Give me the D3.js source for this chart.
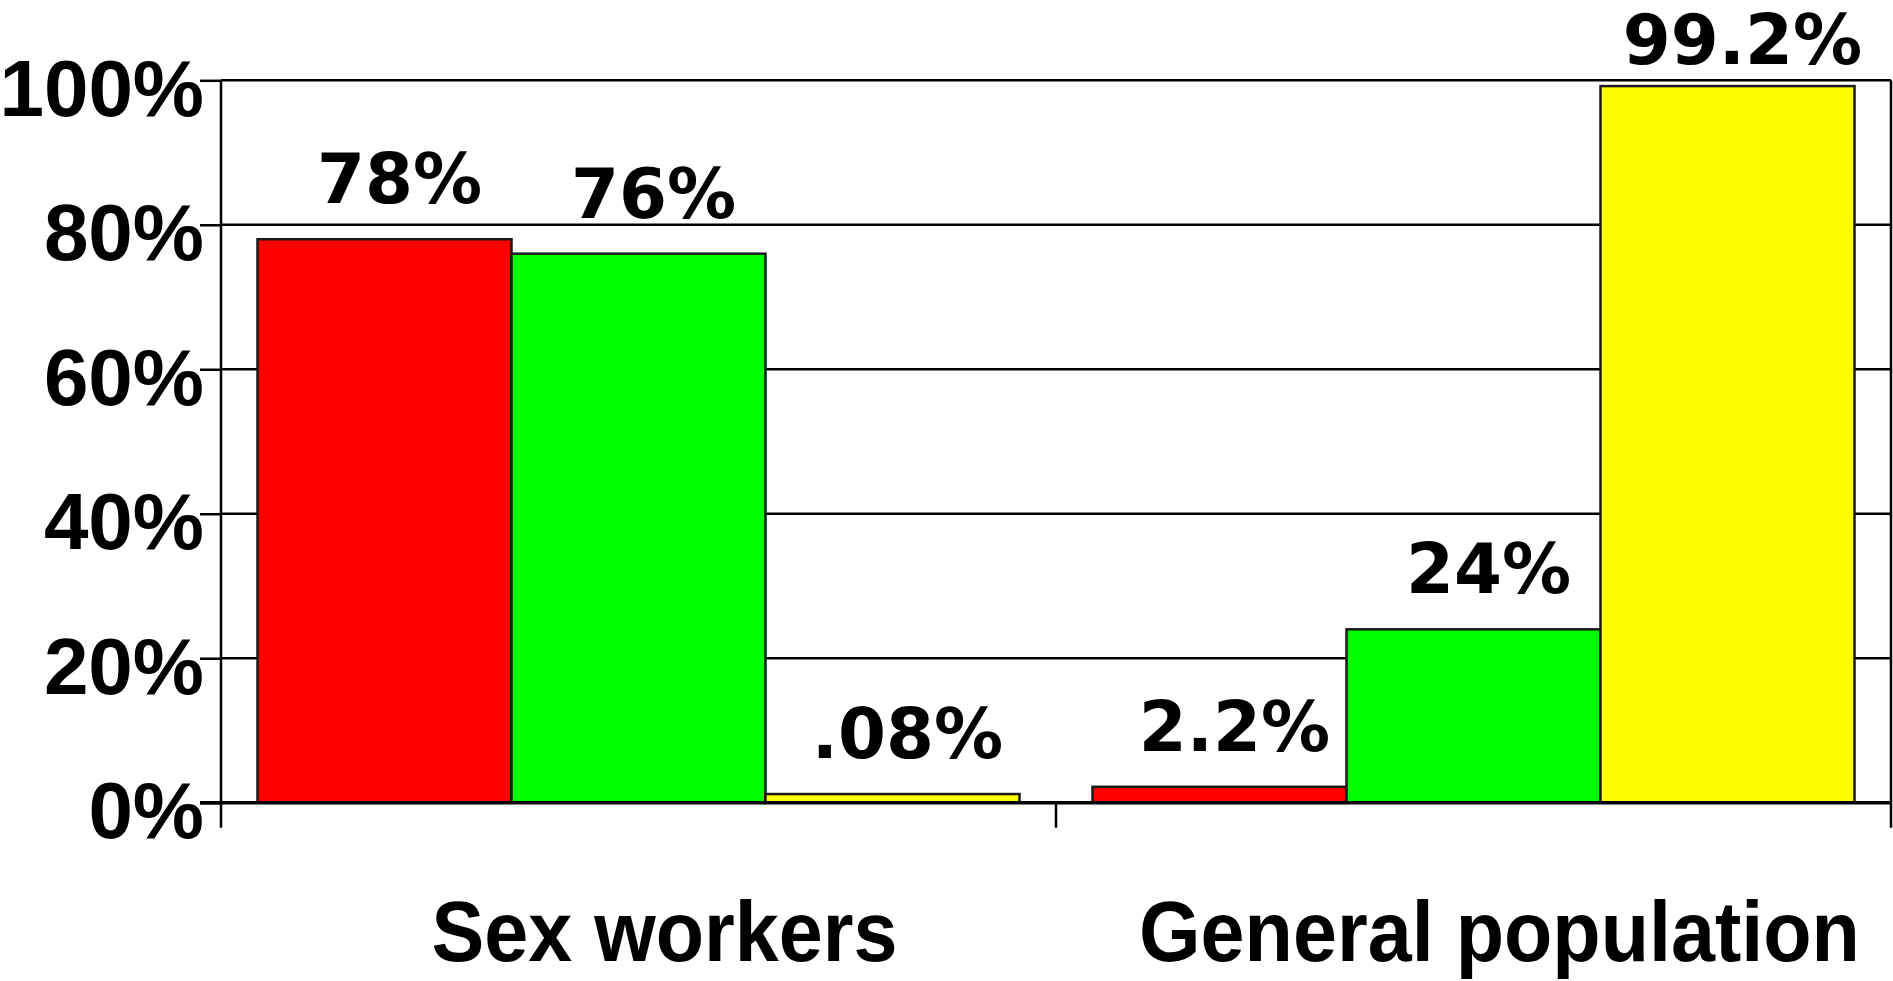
<!DOCTYPE html>
<html>
<head>
<meta charset="utf-8">
<script src="https://cdn.jsdelivr.net/npm/d3@7"></script>
<style>
  html, body { margin: 0; padding: 0; background: #fff; }
  svg { display: block; }
</style>
</head>
<body>
<div id="chart"></div>
<script>
// categories on the x axis
let categories = ["Sex workers", "General population"];
// three bars per category (red, green, yellow)
let seriesKeys = ["red", "green", "yellow"];
let seriesColors = ["#ff0000", "#00ff00", "#ffff00"];
// bar heights as drawn (percent)
let sexWorkersValues = [78, 76, 1.2];
let generalPopValues = [2.2, 24, 99.2];
// labels printed above the bars
let sexWorkersLabels = ["78%", "76%", ".08%"];
let generalPopLabels = ["2.2%", "24%", "99.2%"];
// y ticks
let yTicks = [0, 20, 40, 60, 80, 100];

let chartData = [
    {cat: categories[0], values: sexWorkersValues, labels: sexWorkersLabels},
    {cat: categories[1], values: generalPopValues, labels: generalPopLabels}
];

let W = 1893, H = 981;
let plotLeft = 221, plotRight = 1891, plotTop = 80.3, plotBottom = 802.7;

let svg = d3.select("#chart").append("svg")
    .attr("width", W)
    .attr("height", H);

let yScale = d3.scaleLinear().domain([0, 100]).range([plotBottom, plotTop]);

let x0 = d3.scaleBand()
    .domain(categories)
    .range([plotLeft, plotRight])
    .padding(0);

let outerGap = 36.5;
let x1 = d3.scaleBand()
    .domain(seriesKeys)
    .range([outerGap, x0.bandwidth() - outerGap])
    .padding(0);

// gridlines
svg.append("g")
    .selectAll("line")
    .data(yTicks.filter(d => d > 0))
    .enter()
    .append("line")
    .attr("x1", plotLeft)
    .attr("x2", plotRight)
    .attr("y1", d => yScale(d))
    .attr("y2", d => yScale(d))
    .attr("stroke", "#000")
    .attr("stroke-width", 2.5);

// right border
svg.append("line")
    .attr("x1", plotRight).attr("x2", plotRight)
    .attr("y1", plotTop).attr("y2", plotBottom + 25)
    .attr("stroke", "#000")
    .attr("stroke-width", 2.5);

// category separators below the zero line
svg.append("g")
    .selectAll("line")
    .data(categories.slice(1))
    .enter()
    .append("line")
    .attr("x1", d => x0(d))
    .attr("x2", d => x0(d))
    .attr("y1", plotBottom)
    .attr("y2", plotBottom + 25)
    .attr("stroke", "#000")
    .attr("stroke-width", 2.5);

// bars
let groups = svg.append("g")
    .selectAll("g")
    .data(chartData)
    .enter()
    .append("g")
    .attr("transform", d => "translate(" + x0(d.cat) + ",0)");

groups.selectAll("rect")
    .data(d => d.values.map((v, i) => ({key: seriesKeys[i], value: v, color: seriesColors[i]})))
    .enter()
    .append("rect")
    .attr("x", d => x1(d.key))
    .attr("y", d => yScale(d.value))
    .attr("width", x1.bandwidth())
    .attr("height", d => plotBottom - yScale(d.value))
    .attr("fill", d => d.color)
    .attr("stroke", "#1a1a1a")
    .attr("stroke-width", 2.5);

// value labels
groups.selectAll("text")
    .data(d => d.values.map((v, i) => ({key: seriesKeys[i], value: v, label: d.labels[i]})))
    .enter()
    .append("text")
    .attr("x", d => x1(d.key) + x1.bandwidth() / 2 + 15)
    .attr("y", d => Math.max(yScale(d.value) - 36, 64))
    .attr("text-anchor", "middle")
    .attr("font-family", "'DejaVu Sans', Verdana, sans-serif")
    .attr("font-weight", "bold")
    .attr("font-size", 69)
    .attr("fill", "#000")
    .text(d => d.label);

// y axis
let yAxis = svg.append("g")
    .attr("transform", "translate(" + plotLeft + ",0)")
    .call(d3.axisLeft(yScale)
        .tickValues(yTicks)
        .tickSize(21)
        .tickPadding(-4)
        .tickFormat(d => d + "%"));

yAxis.select(".domain").remove();
yAxis.selectAll(".tick line")
    .attr("stroke", "#000")
    .attr("stroke-width", 2.5);
yAxis.selectAll(".tick text")
    .attr("font-family", "'Liberation Sans', Arial, sans-serif")
    .attr("font-weight", "bold")
    .attr("font-size", 80)
    .attr("fill", "#000")
    .attr("dy", 35);

// left axis line (runs a bit below zero)
svg.append("line")
    .attr("x1", plotLeft).attr("x2", plotLeft)
    .attr("y1", plotTop).attr("y2", plotBottom + 25)
    .attr("stroke", "#000")
    .attr("stroke-width", 2.5);

// zero line
svg.append("line")
    .attr("x1", plotLeft - 21).attr("x2", plotRight)
    .attr("y1", plotBottom).attr("y2", plotBottom)
    .attr("stroke", "#000")
    .attr("stroke-width", 3.5);

// category labels
svg.append("g")
    .selectAll("text")
    .data(categories)
    .enter()
    .append("text")
    .attr("transform", d => "translate(" + (x0(d) + x0.bandwidth() / 2 + 26) + ",961) scale(0.92,1)")
    .attr("text-anchor", "middle")
    .attr("font-family", "'Liberation Sans', Arial, sans-serif")
    .attr("font-weight", "bold")
    .attr("font-size", 86)
    .attr("fill", "#000")
    .text(d => d);
</script>
</body>
</html>
